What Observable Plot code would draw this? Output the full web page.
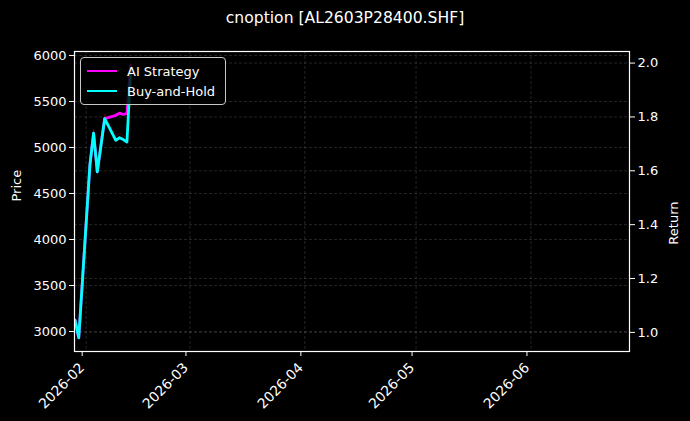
<!DOCTYPE html>
<html><head><meta charset="utf-8">
<script src="https://cdn.jsdelivr.net/npm/d3@7"></script>
<script src="https://cdn.jsdelivr.net/npm/@observablehq/plot@0.6"></script>
<style>
html,body{margin:0;padding:0;background:#000;}
#wrap{position:relative;width:690px;height:421px;font-family:"DejaVu Sans",sans-serif;color:#fff;overflow:hidden;}
#title{height:36px;line-height:36px;text-align:center;font-size:15.6px;}
#legend{position:absolute;left:80px;top:57px;width:146px;height:48px;box-sizing:border-box;border:1px solid #c8c8c8;border-radius:4px;background:rgba(0,0,0,0.8);font-size:13px;}
.item{position:absolute;left:6px;height:16px;display:flex;align-items:center;white-space:nowrap;}
.swatch{width:30px;height:2.8px;margin-right:10px;}
</style></head>
<body><div id="wrap"><div id="title">cnoption [AL2603P28400.SHF]</div><div id="chart"></div><div id="legend"></div></div>
<script>
// ---- data ----
const dates = ["2026-01-29","2026-01-30","2026-02-02","2026-02-03","2026-02-04","2026-02-05","2026-02-06","2026-02-09","2026-02-10","2026-02-11","2026-02-12","2026-02-13"];
const aiReturn = [1.045, 0.98, 1.62, 1.74, 1.596, 1.695, 1.794, 1.806, 1.814, 1.809, 1.813, 1.993];
const bhReturn = [1.045, 0.98, 1.62, 1.74, 1.596, 1.695, 1.794, 1.713, 1.723, 1.716, 1.707, 1.97];
const closePrice = [3125, 2930, 4845, 5200, 4770, 5065, 5365, 5120, 5150, 5130, 5105, 5890];
const seriesNames = ["AI Strategy", "Buy-and-Hold"];
const seriesColors = ["#ff00ff", "#00ffff"];
const returnTicks = [1.0, 1.2, 1.4, 1.6, 1.8, 2.0];
const priceTicks = [3000, 3500, 4000, 4500, 5000, 5500, 6000];
const monthTicks = ["2026-02-01","2026-03-01","2026-04-01","2026-05-01","2026-06-01"];
const xLimits = ["2026-01-28T20:24:00Z", "2026-06-27T14:00:00Z"];
const returnLimits = [0.929, 2.043];
const priceLimits = [2783, 6043];

// ---- build tables ----
const toDate = s => new Date(s.length === 10 ? s + "T00:00:00Z" : s);
const rows = dates.map((d, i) => ({date: toDate(d), ai: aiReturn[i], bh: bhReturn[i], price: closePrice[i]}));
const p2r = p => returnLimits[0] + (p - priceLimits[0]) / (priceLimits[1] - priceLimits[0]) * (returnLimits[1] - returnLimits[0]);
const r2p = r => priceLimits[0] + (r - returnLimits[0]) / (returnLimits[1] - returnLimits[0]) * (priceLimits[1] - priceLimits[0]);
const months = monthTicks.map(toDate);
const gridStyle = {stroke: "#9a9a9a", strokeOpacity: 0.4, strokeWidth: 0.6, strokeDasharray: "3,2"};

const chart = Plot.plot({
  width: 690,
  height: 385,
  marginLeft: 74,
  marginRight: 61,
  marginTop: 15,
  marginBottom: 70,
  style: {background: "#000", color: "#fff", fontSize: "13px", fontFamily: "DejaVu Sans, sans-serif"},
  x: {type: "utc", domain: xLimits.map(toDate)},
  y: {domain: returnLimits},
  marks: [
    Plot.gridX(months, gridStyle),
    Plot.gridY(returnTicks, gridStyle),
    Plot.gridY(priceTicks.map(p2r), gridStyle),
    Plot.line(rows, {x: "date", y: d => p2r(d.price), stroke: "#c00020", strokeOpacity: 0.35, strokeWidth: 1, clip: true}),
    Plot.line(rows, {x: "date", y: "ai", stroke: seriesColors[0], strokeWidth: 2.8, clip: true}),
    Plot.line(rows, {x: "date", y: "bh", stroke: seriesColors[1], strokeWidth: 2.8, clip: true}),
    Plot.frame({stroke: "#fff", strokeWidth: 1.2}),
    Plot.axisY(priceTicks.map(p2r), {anchor: "left", tickFormat: r => String(Math.round(r2p(r))), tickSize: 5, tickPadding: 3, color: "#fff", label: null}),
    Plot.axisY(returnTicks, {anchor: "right", tickFormat: d3.format(".1f"), tickSize: 5, tickPadding: 3, color: "#fff", label: null}),
    Plot.axisX(months, {anchor: "bottom", tickFormat: d3.utcFormat("%Y-%m"), tickRotate: -45, tickSize: 5, tickPadding: 9, dx: -4, fontSize: 13.8, color: "#fff", label: null}),
    Plot.text(["Price"], {frameAnchor: "left", dx: -58, rotate: -90, fill: "#fff", fontSize: 13}),
    Plot.text(["Return"], {frameAnchor: "right", dx: 44, rotate: -90, fill: "#fff", fontSize: 13})
  ]
});
document.getElementById("chart").appendChild(chart);

// legend
const legend = document.getElementById("legend");
seriesNames.forEach((name, i) => {
  const it = document.createElement("div");
  it.className = "item";
  it.style.top = (5 + i * 20) + "px";
  it.innerHTML = `<span class="swatch" style="background:${seriesColors[i]}"></span><span>${name}</span>`;
  legend.appendChild(it);
});
</script></body></html>
